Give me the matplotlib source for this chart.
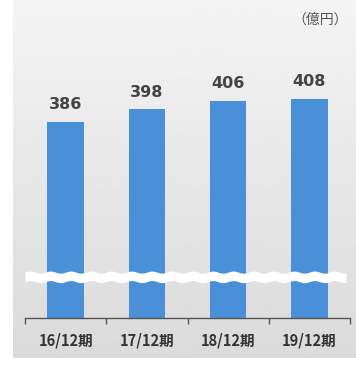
import numpy as np
import matplotlib.pyplot as plt

plt.rcParams['font.family'] = ['Noto Sans CJK JP', 'DejaVu Sans']

periods = ['16/12期', '17/12期', '18/12期', '19/12期']
sales = [386, 398, 406, 408]
unit = '（億円）'

fig = plt.figure(figsize=(3.56, 3.65), dpi=100)

# gray gradient panel behind the chart
bg = fig.add_axes([13/356, 7/365, 343/356, 358/365], zorder=0)
grad = np.linspace(0.955, 0.855, 256).reshape(-1, 1)
bg.imshow(grad, cmap='gray', vmin=0, vmax=1, aspect='auto', extent=[0, 1, 0, 1])
bg.axis('off')

ax = fig.add_axes([25/356, 47/365, 325/356, 278/365], zorder=1)
ax.patch.set_alpha(0)
x = np.arange(len(periods))
ax.bar(x, sales, width=0.45, color='#4a90d9', zorder=2)
for xi, v in zip(x, sales):
    ax.text(xi, v + 9, str(v), ha='center', va='bottom', fontsize=11.5,
            fontweight='bold', color='#444444', family='DejaVu Sans')

ax.set_xlim(-0.5, 3.5)
ax.set_ylim(200, 463.5)

# white wavy break across the bars
xs = np.linspace(-0.5, 3.45, 600)
wave = 1.0 * np.sin(xs * 2 * np.pi * 4)
ax.fill_between(xs, 234.5 + wave, 243.5 + wave, color='white', lw=0, zorder=3)

for s in ['top', 'right', 'left']:
    ax.spines[s].set_visible(False)
ax.spines['bottom'].set_color('#555555')
ax.spines['bottom'].set_linewidth(1.0)
ax.set_yticks([])
ax.set_xticks(np.arange(-0.5, 4, 1))
ax.set_xticklabels([])
ax.tick_params(axis='x', length=4, color='#555555', width=1.0)
for xi, lab in zip(x, periods):
    ax.text(xi, -0.08, lab, transform=ax.get_xaxis_transform(), ha='center',
            va='center', fontsize=10.5, fontweight='bold', color='#333333')

fig.text(348/356, 1 - 20/365, unit, ha='right', va='center', fontsize=10,
         color='#555555')

fig.savefig('out.png', dpi=100)
